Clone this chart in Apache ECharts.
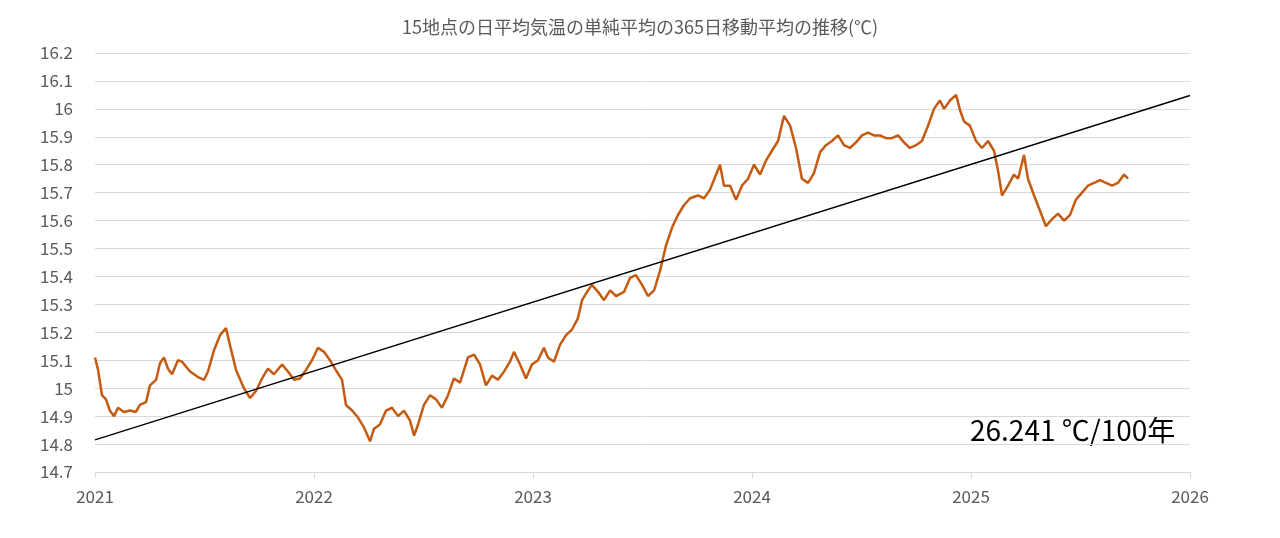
<!DOCTYPE html>
<html><head><meta charset="utf-8">
<script src="https://cdn.jsdelivr.net/npm/echarts@6/dist/echarts.min.js"></script>
<style>html,body{margin:0;padding:0;background:#fff}#c{width:1280px;height:538px}</style>
</head><body><div id="c"></div>
<script>
const years=[2021.000,2021.014,2021.032,2021.050,2021.068,2021.087,2021.105,2021.132,2021.160,2021.187,2021.205,2021.233,2021.251,2021.279,2021.297,2021.315,2021.333,2021.352,2021.379,2021.397,2021.434,2021.470,2021.498,2021.516,2021.543,2021.571,2021.598,2021.616,2021.644,2021.680,2021.708,2021.735,2021.763,2021.790,2021.817,2021.854,2021.881,2021.909,2021.936,2021.963,2021.991,
2022.018,2022.046,2022.073,2022.100,2022.128,2022.146,2022.174,2022.201,2022.228,2022.256,2022.274,2022.301,2022.329,2022.356,2022.384,2022.411,2022.438,2022.457,2022.475,2022.502,2022.530,2022.557,2022.584,2022.612,2022.639,2022.667,2022.703,2022.731,2022.758,2022.785,2022.813,2022.840,2022.868,2022.895,2022.913,2022.941,2022.968,2022.995,
2023.023,2023.050,2023.068,2023.096,2023.123,2023.151,2023.178,2023.205,2023.224,2023.251,2023.269,2023.297,2023.324,2023.352,2023.379,2023.416,2023.443,2023.470,2023.498,2023.525,2023.553,2023.580,2023.607,2023.635,2023.662,2023.689,2023.717,2023.753,2023.781,2023.808,2023.836,2023.854,2023.872,2023.900,2023.927,2023.954,2023.982,
2024.009,2024.037,2024.064,2024.091,2024.119,2024.146,2024.174,2024.201,2024.228,2024.256,2024.283,2024.311,2024.338,2024.365,2024.393,2024.420,2024.447,2024.475,2024.502,2024.530,2024.557,2024.584,2024.612,2024.639,2024.667,2024.694,2024.721,2024.749,2024.776,2024.804,2024.831,2024.858,2024.877,2024.904,2024.932,2024.950,2024.968,2024.995,
2025.023,2025.050,2025.078,2025.105,2025.123,2025.142,2025.169,2025.196,2025.215,2025.242,2025.260,2025.288,2025.315,2025.342,2025.370,2025.397,2025.425,2025.452,2025.479,2025.507,2025.534,2025.562,2025.589,2025.616,2025.644,2025.671,2025.699,2025.717];
const temps=[15.11,15.065,14.975,14.96,14.92,14.90,14.93,14.915,14.92,14.915,14.94,14.95,15.01,15.03,15.09,15.11,15.07,15.05,15.10,15.095,15.06,15.04,15.03,15.06,15.135,15.19,15.215,15.155,15.065,15.00,14.965,14.99,15.035,15.07,15.05,15.085,15.06,15.03,15.035,15.065,15.10,
15.145,15.13,15.10,15.065,15.03,14.94,14.92,14.895,14.86,14.81,14.855,14.87,14.92,14.93,14.90,14.92,14.885,14.83,14.87,14.94,14.975,14.96,14.93,14.975,15.035,15.02,15.11,15.12,15.085,15.01,15.045,15.03,15.06,15.095,15.13,15.085,15.035,15.085,
15.10,15.145,15.11,15.095,15.155,15.19,15.21,15.25,15.315,15.35,15.37,15.345,15.315,15.35,15.33,15.345,15.395,15.405,15.37,15.33,15.35,15.42,15.51,15.575,15.62,15.655,15.68,15.69,15.68,15.71,15.765,15.80,15.725,15.725,15.675,15.725,15.75,
15.80,15.765,15.815,15.85,15.885,15.975,15.94,15.86,15.75,15.735,15.77,15.845,15.87,15.885,15.905,15.87,15.86,15.88,15.905,15.915,15.905,15.905,15.895,15.895,15.905,15.88,15.86,15.87,15.885,15.94,16.00,16.03,16.00,16.03,16.05,15.995,15.955,15.94,
15.885,15.86,15.885,15.85,15.78,15.69,15.725,15.765,15.75,15.835,15.75,15.69,15.635,15.58,15.605,15.625,15.60,15.62,15.675,15.70,15.725,15.735,15.745,15.735,15.725,15.735,15.765,15.75];
const trendX=[2021,2026];
const trendY=[14.815,16.048];
const titleText='15地点の日平均気温の単純平均の365日移動平均の推移(℃)';
const noteText='26.241 ℃/100年';

const chart=echarts.init(document.getElementById('c'));
const font='"Noto Sans CJK JP", "Noto Sans", sans-serif';
chart.setOption({
  animation:false,
  title:{text:titleText,left:'center',top:13,textStyle:{fontSize:18,fontWeight:'normal',color:'#595959',fontFamily:font}},
  grid:{left:95,right:90,top:53,bottom:66},
  xAxis:{type:'value',min:2021,max:2026,interval:1,
    axisLine:{lineStyle:{color:'#d9d9d9'}},axisTick:{show:true,length:6,lineStyle:{color:'#d9d9d9'}},
    splitLine:{show:false},
    axisLabel:{color:'#595959',fontSize:17,margin:16,fontFamily:font,formatter:v=>String(v)}},
  yAxis:{type:'value',min:14.7,max:16.2,interval:0.1,
    axisLine:{show:false},axisTick:{show:false},
    splitLine:{lineStyle:{color:'#d9d9d9'}},
    axisLabel:{color:'#595959',fontSize:17,margin:22,fontFamily:font,formatter:v=>String(+v.toFixed(1))}},
  graphic:[{type:'text',left:970,top:416,style:{text:noteText,fill:'#000',font:'28px '+font}}],
  series:[
    {type:'line',data:years.map((y,i)=>[y,temps[i]]),symbol:'none',lineStyle:{color:'#c55a11',width:2.5}},
    {type:'line',data:trendX.map((x,i)=>[x,trendY[i]]),symbol:'none',lineStyle:{color:'#000',width:1.5}}
  ]
});
</script></body></html>
